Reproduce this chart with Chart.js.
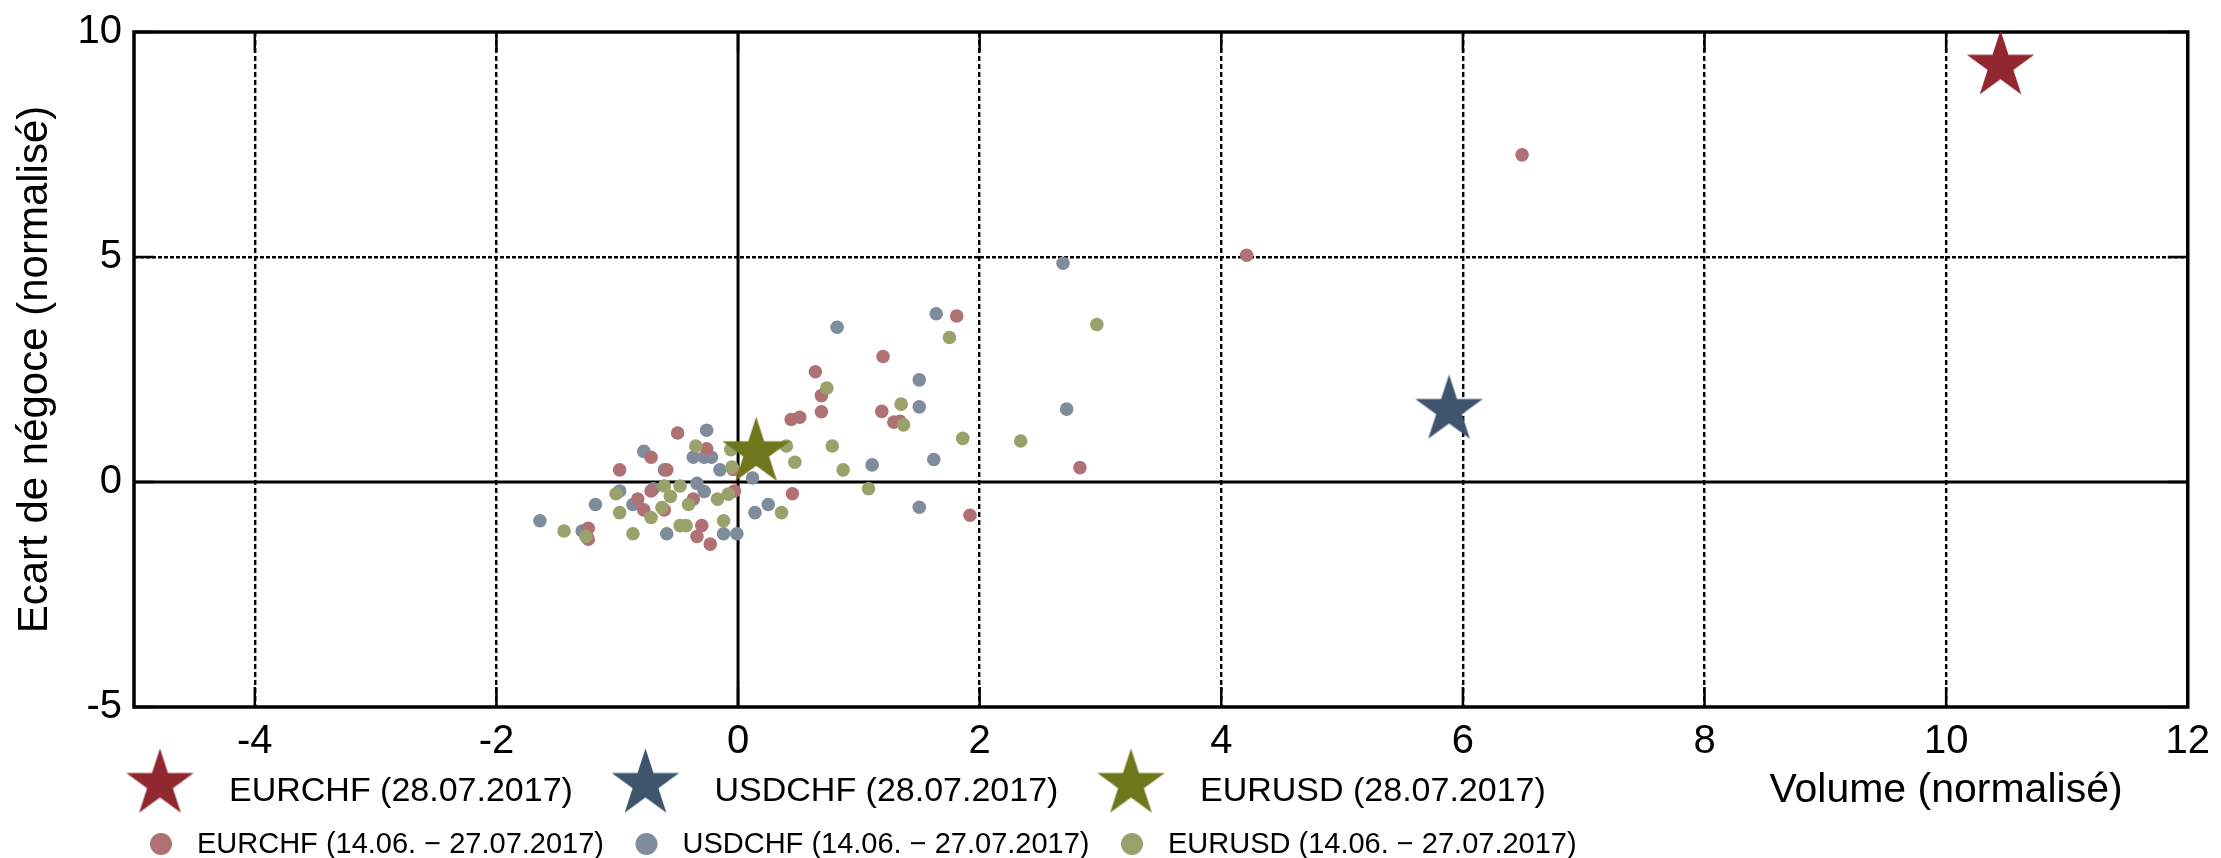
<!DOCTYPE html>
<html>
<head>
<meta charset="utf-8">
<script src="https://cdn.jsdelivr.net/npm/chart.js@4.4.1/dist/chart.umd.min.js"></script>
<style>
  html, body { margin: 0; padding: 0; background: #fff; }
  canvas { display: block; }
</style>
</head>
<body>
<canvas id="c" width="2221" height="858"></canvas>
<script>
// ---------- DATA ----------
const xTicks = [-4, -2, 0, 2, 4, 6, 8, 10, 12];
const yTicks = [-5, 0, 5, 10];

const labelsCurrent = ['EURCHF (28.07.2017)', 'USDCHF (28.07.2017)', 'EURUSD (28.07.2017)'];
const labelsHistory = ['EURCHF (14.06. \u2212 27.07.2017)', 'USDCHF (14.06. \u2212 27.07.2017)', 'EURUSD (14.06. \u2212 27.07.2017)'];

// Current day (28.07.2017): [volume, spread]
const eurchfNowX = [10.45];
const eurchfNowY = [9.25];
const usdchfNowX = [5.885];
const usdchfNowY = [1.60];
const eurusdNowX = [0.15];
const eurusdNowY = [0.66];

// History (14.06. - 27.07.2017)
const eurchfHistX = [0.69, 0.69, 0.44, 0.51, 1.19, 1.29, -0.50, -0.26, -0.72, -0.98, -0.59, -0.04, -0.72, -0.83, -0.37, -0.03,
  0.45, -0.78, -0.61, -1.24, -1.24, -0.30, -0.34, -0.23, 1.81, 1.20, 0.64, 1.34, 2.83, 1.92, 4.21, 6.49];
const eurchfHistY = [1.92, 1.56, 1.39, 1.44, 1.57, 1.33, 1.09, 0.74, 0.55, 0.27, 0.27, 0.28, -0.20, -0.38, -0.38, -0.20,
  -0.26, -0.62, -0.62, -1.03, -1.27, -0.97, -1.21, -1.38, 3.69, 2.79, 2.45, 1.35, 0.32, -0.74, 5.04, 7.27];

const usdchfHistX = [-0.26, -0.78, -0.37, -0.28, -0.22, -0.61, -0.15, 1.11, 0.12, -0.34, -0.28, -0.70, -0.98, -1.18, -0.87,
  -1.64, -1.29, -0.59, -0.12, -0.01, 0.14, 0.25, 1.64, 0.82, 1.50, 1.50, 2.72, 1.62, 1.50, 2.69];
const usdchfHistY = [1.15, 0.68, 0.55, 0.55, 0.55, 0.27, 0.27, 0.38, 0.09, -0.03, -0.21, -0.15, -0.20, -0.50, -0.50,
  -0.86, -1.09, -1.15, -1.15, -1.15, -0.68, -0.50, 3.74, 3.44, 2.27, 1.67, 1.62, 0.50, -0.56, 4.86];

const eurusdHistX = [0.735, 1.35, 1.37, -0.35, -0.06, 0.40, 0.78, 0.47, -0.05, 0.87, 1.08, -0.61, -0.48, -1.01, -0.56, -0.08,
  -0.17, -0.41, -0.63, -0.98, -0.72, 0.36, -0.12, -1.44, -1.26, -0.87, -0.48, -0.43, 1.75, 2.97, 1.86, 2.34];
const eurusdHistY = [2.09, 1.73, 1.27, 0.80, 0.72, 0.80, 0.80, 0.44, 0.33, 0.27, -0.15, -0.09, -0.09, -0.26, -0.32, -0.27,
  -0.38, -0.50, -0.57, -0.68, -0.79, -0.68, -0.86, -1.09, -1.21, -1.15, -0.97, -0.97, 3.21, 3.50, 0.97, 0.91];

// ---------- STYLE ----------
const FONT = "'Liberation Sans', Arial, Helvetica, sans-serif";
const colNow = ['#92282F', '#3F556E', '#6E771C'];
const colHist = ['#B07175', '#7F8C9B', '#9AA16A'];
const STAR_R = 35.5;
const DOT_R = 6.8;

function zip(xs, ys) { return xs.map((v, i) => ({ x: v, y: ys[i] })); }

function makeStar(R, color) {
  const s = Math.ceil(2 * R + 4);
  const c = document.createElement('canvas');
  c.width = s; c.height = s;
  const g = c.getContext('2d');
  const cx = s / 2, cy = s / 2, r = R * 0.382;
  g.beginPath();
  for (let i = 0; i < 10; i++) {
    const a = -Math.PI / 2 + i * Math.PI / 5;
    const rr = (i % 2) ? r : R;
    g.lineTo(cx + rr * Math.cos(a), cy + rr * Math.sin(a));
  }
  g.closePath();
  g.fillStyle = color;
  g.fill();
  return c;
}
const stars = colNow.map(c => makeStar(STAR_R, c));

const nowX = [eurchfNowX, usdchfNowX, eurusdNowX];
const nowY = [eurchfNowY, usdchfNowY, eurusdNowY];
const histX = [eurchfHistX, usdchfHistX, eurusdHistX];
const histY = [eurchfHistY, usdchfHistY, eurusdHistY];

const datasets = [];
for (let i = 0; i < 3; i++) {
  datasets.push({
    label: labelsCurrent[i],
    data: zip(nowX[i], nowY[i]),
    pointStyle: stars[i],
    backgroundColor: colNow[i],
    borderWidth: 0,
    order: 0
  });
}
const histOrder = [2, 3, 1];
for (let i = 0; i < 3; i++) {
  datasets.push({
    label: labelsHistory[i],
    data: zip(histX[i], histY[i]),
    pointStyle: 'circle',
    pointRadius: DOT_R,
    backgroundColor: colHist[i],
    borderWidth: 0,
    order: histOrder[i]
  });
}

const framePlugin = {
  id: 'frame',
  beforeDatasetsDraw(chart) {
    const { ctx, chartArea: { left, right, top, bottom }, scales: { x, y } } = chart;
    ctx.save();
    ctx.strokeStyle = '#000';
    ctx.setLineDash([]);
    const ln = (a, b, c, d) => { ctx.beginPath(); ctx.moveTo(a, b); ctx.lineTo(c, d); ctx.stroke(); };
    // zero lines
    ctx.lineWidth = 3;
    const x0 = x.getPixelForValue(0), y0 = y.getPixelForValue(0);
    ln(x0, top, x0, bottom);
    ln(left, y0, right, y0);
    // inward tick marks
    ctx.lineWidth = 2.5;
    x.ticks.forEach(t => {
      const p = x.getPixelForValue(t.value);
      ln(p, top, p, top + 20);
      ln(p, bottom, p, bottom - 20);
    });
    y.ticks.forEach(t => {
      const p = y.getPixelForValue(t.value);
      ln(left, p, left + 20, p);
      ln(right, p, right - 20, p);
    });
    // frame
    ctx.lineWidth = 3.5;
    ctx.strokeRect(left, top, right - left, bottom - top);
    ctx.restore();
  },
  afterDraw(chart) {
    const { ctx } = chart;
    ctx.save();
    ctx.fillStyle = '#000';
    ctx.textBaseline = 'alphabetic';
    ctx.textAlign = 'left';
    const baseX = 160, stepX = 485.5;
    for (let i = 0; i < 3; i++) {
      const cx = baseX + i * stepX;
      // row 1: stars
      const s = stars[i];
      ctx.drawImage(s, cx - s.width / 2, 784 - s.height / 2);
      ctx.fillStyle = '#000';
      ctx.font = '34px ' + FONT;
      ctx.fillText(chart.data.datasets[i].label, cx + 69, 801);
      // row 2: dots
      ctx.beginPath();
      ctx.arc(cx + 1, 844, 11, 0, Math.PI * 2);
      ctx.fillStyle = colHist[i];
      ctx.fill();
      ctx.fillStyle = '#000';
      ctx.font = '29px ' + FONT;
      ctx.fillText(chart.data.datasets[3 + i].label, cx + 37, 853);
    }
    // x axis title
    ctx.font = '41px ' + FONT;
    ctx.textAlign = 'center';
    ctx.fillText('Volume (normalis\u00e9)', 1946, 802);
    ctx.restore();
  }
};

new Chart(document.getElementById('c'), {
  type: 'scatter',
  data: { datasets },
  options: {
    responsive: false,
    devicePixelRatio: 1,
    animation: false,
    layout: { padding: { left: 0, top: 28, right: 29, bottom: 0 } },
    plugins: { legend: { display: false }, tooltip: { enabled: false } },
    elements: { point: { radius: DOT_R, hoverRadius: DOT_R } },
    scales: {
      x: {
        type: 'linear',
        min: -5, max: 12,
        afterBuildTicks: s => { s.ticks = xTicks.map(v => ({ value: v })); },
        afterFit: s => { s.height = 151; },
        grid: {
          drawTicks: false,
          lineWidth: 2.4,
          color: c => (c.tick && (c.tick.value === 0 || c.tick.value === 12)) ? 'rgba(0,0,0,0)' : '#000'
        },
        border: { display: false, dash: [5, 3] },
        ticks: { color: '#000', font: { family: FONT, size: 40 }, padding: 11, maxRotation: 0, autoSkip: false }
      },
      y: {
        type: 'linear',
        min: -5, max: 10,
        afterBuildTicks: s => { s.ticks = yTicks.map(v => ({ value: v })); },
        afterFit: s => { s.width = 134; },
        grid: {
          drawTicks: false,
          lineWidth: 2.4,
          color: c => (c.tick && (c.tick.value === 0 || c.tick.value === 10 || c.tick.value === -5)) ? 'rgba(0,0,0,0)' : '#000'
        },
        border: { display: false, dash: [4, 2] },
        ticks: { color: '#000', font: { family: FONT, size: 40, lineHeight: 1 }, padding: 12 },
        title: {
          display: true,
          text: 'Ecart de n\u00e9goce (normalis\u00e9)',
          color: '#000',
          font: { family: FONT, size: 42 },
          padding: { top: 10, bottom: 0 }
        }
      }
    }
  },
  plugins: [framePlugin]
});
</script>
</body>
</html>
